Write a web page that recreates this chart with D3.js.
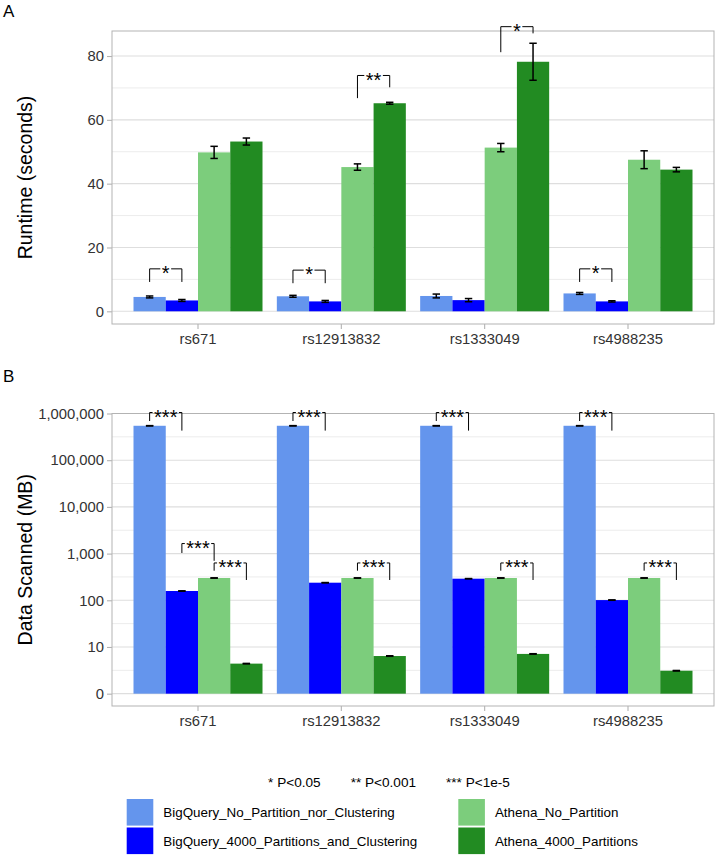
<!DOCTYPE html>
<html>
<head>
<meta charset="utf-8">
<script src="https://cdn.jsdelivr.net/npm/d3@7/dist/d3.min.js"></script>
<style>
  body { margin: 0; background: #fff; }
  svg text { font-family: "Liberation Sans", Arial, sans-serif; }
</style>
</head>
<body>
<script>
// data
var snps = ["rs671", "rs12913832", "rs1333049", "rs4988235"];
var seriesNames = ["BigQuery_No_Partition_nor_Clustering", "BigQuery_4000_Partitions_and_Clustering",
                   "Athena_No_Partition", "Athena_4000_Partitions"];
var seriesColors = ["#6495ED", "#0000FF", "#7CCD7C", "#228B22"];

// runtime (seconds), one row per snp, one value per series
var runtimeMean = [[4.5, 3.4, 49.8, 53.2],
                   [4.7, 3.1, 45.2, 65.2],
                   [4.8, 3.5, 51.3, 78.2],
                   [5.6, 3.1, 47.5, 44.4]];
var runtimeErr = [[0.3, 0.3, 1.9, 1.1],
                  [0.3, 0.3, 1.0, 0.3],
                  [0.6, 0.5, 1.3, 5.8],
                  [0.3, 0.2, 2.8, 0.7]];
var runtimeTicks = [0, 20, 40, 60, 80];

// data scanned (MB)
var scannedMean = [[546000, 158, 300, 4.4],
                   [546000, 238, 300, 6.4],
                   [546000, 290, 300, 7.1],
                   [546000, 101, 300, 3.1]];
var scannedErr = [[4000, 1.5, 2, 0.05],
                  [4000, 2, 2, 0.08],
                  [4000, 2, 2, 0.08],
                  [4000, 1, 2, 0.04]];
var scannedTicks = [1, 10, 100, 1000, 10000, 100000, 1000000];
var scannedTickLabels = ["0", "10", "100", "1,000", "10,000", "100,000", "1,000,000"];

// significance brackets: snp index, two series, bar top, left tip, right tip
var runtimeSig = [
  {snp: 0, a: 0, b: 1, top: 13.3, tipA: 9.2, tipB: 9.2, label: "*"},
  {snp: 1, a: 0, b: 1, top: 12.9, tipA: 8.8, tipB: 8.8, label: "*"},
  {snp: 1, a: 2, b: 3, top: 73.9, tipA: 66.8, tipB: 70.2, label: "**"},
  {snp: 2, a: 2, b: 3, top: 89.2, tipA: 81.2, tipB: 87.1, label: "*"},
  {snp: 3, a: 0, b: 1, top: 13.3, tipA: 9.2, tipB: 9.2, label: "*"}
];
var scannedSig = [
  {snp: 0, a: 0, b: 1, top: 1050000, tipA: 690000, tipB: 430000, label: "***"},
  {snp: 1, a: 0, b: 1, top: 1050000, tipA: 690000, tipB: 430000, label: "***"},
  {snp: 2, a: 0, b: 1, top: 1050000, tipA: 690000, tipB: 430000, label: "***"},
  {snp: 3, a: 0, b: 1, top: 1050000, tipA: 690000, tipB: 430000, label: "***"},
  {snp: 0, a: 1, b: 2, top: 1640, tipA: 1030, tipB: 700, label: "***"},
  {snp: 0, a: 2, b: 3, top: 630, tipA: 430, tipB: 272, label: "***"},
  {snp: 1, a: 2, b: 3, top: 630, tipA: 430, tipB: 272, label: "***"},
  {snp: 2, a: 2, b: 3, top: 630, tipA: 430, tipB: 272, label: "***"},
  {snp: 3, a: 2, b: 3, top: 630, tipA: 430, tipB: 272, label: "***"}
];
var pLabels = ["* P<0.05", "** P<0.001", "*** P<1e-5"];

var width = 716, height = 855;
var left = 112, right = 714;
var tickCol = "#b3b3b3", textCol = "#333333";

var svg = d3.select("body").append("svg")
  .attr("width", width).attr("height", height);

var x = d3.scaleBand().domain(snps).range([left, right])
  .paddingInner(0.1).paddingOuter(0.15);
var xs = d3.scaleBand().domain(d3.range(seriesNames.length)).range([0, x.bandwidth()]);
function barMid(snpIdx, s) { return x(snps[snpIdx]) + xs(s) + xs.bandwidth() / 2; }

function drawPanel(opt) {
  var y = opt.y, top = opt.top, bottom = opt.bottom;
  var g = svg.append("g");

  // grid
  g.selectAll(".minor").data(opt.minor).join("line")
    .attr("x1", left).attr("x2", right)
    .attr("y1", d => y(d)).attr("y2", d => y(d))
    .attr("stroke", "#ececec").attr("stroke-width", 1);
  g.selectAll(".major").data(opt.ticks).join("line")
    .attr("x1", left).attr("x2", right)
    .attr("y1", d => y(d)).attr("y2", d => y(d))
    .attr("stroke", "#dedede").attr("stroke-width", 1.1);

  // bars
  opt.mean.forEach(function(row, i) {
    g.selectAll(null).data(row).join("rect")
      .attr("x", (d, s) => x(snps[i]) + xs(s))
      .attr("width", xs.bandwidth())
      .attr("y", d => y(d))
      .attr("height", d => y(opt.base) - y(d))
      .attr("fill", (d, s) => seriesColors[s]);
  });

  // error bars
  var cap = xs.bandwidth() * 0.23;
  opt.mean.forEach(function(row, i) {
    row.forEach(function(m, s) {
      var e = opt.err[i][s], cx = barMid(i, s);
      var eg = g.append("g").attr("stroke", "#000").attr("stroke-width", 1.5);
      eg.append("line").attr("x1", cx).attr("x2", cx).attr("y1", y(m - e)).attr("y2", y(m + e));
      eg.append("line").attr("x1", cx - cap / 2).attr("x2", cx + cap / 2).attr("y1", y(m - e)).attr("y2", y(m - e));
      eg.append("line").attr("x1", cx - cap / 2).attr("x2", cx + cap / 2).attr("y1", y(m + e)).attr("y2", y(m + e));
    });
  });

  // border
  g.append("rect").attr("x", left).attr("y", top)
    .attr("width", right - left).attr("height", bottom - top)
    .attr("fill", "none").attr("stroke", tickCol).attr("stroke-width", 1);

  // axes
  var ya = g.append("g").attr("transform", "translate(" + left + ",0)")
    .call(d3.axisLeft(y).tickValues(opt.ticks).tickSize(5).tickPadding(3).tickFormat(opt.fmt));
  var xa = g.append("g").attr("transform", "translate(0," + bottom + ")")
    .call(d3.axisBottom(x).tickSize(5).tickPadding(4));
  [ya, xa].forEach(function(a) {
    a.select(".domain").remove();
    a.selectAll(".tick line").attr("stroke", tickCol).attr("stroke-width", 1.1);
    a.selectAll(".tick text").attr("fill", textCol).attr("font-size", 14.8);
  });

  // axis title
  g.append("text")
    .attr("transform", "translate(32," + (top + bottom) / 2 + ") rotate(-90)")
    .attr("text-anchor", "middle").attr("font-size", 19.5).attr("fill", "#000")
    .text(opt.title);

  // panel tag
  svg.append("text").attr("x", 3).attr("y", opt.tagY)
    .attr("font-size", 17).attr("fill", "#000").text(opt.tag);

  // significance brackets
  opt.sig.forEach(function(b) {
    var x1 = barMid(b.snp, b.a), x2 = barMid(b.snp, b.b), yt = y(b.top);
    var fs = 20;
    var t = g.append("text").attr("x", (x1 + x2) / 2).attr("y", yt + fs * 0.56)
      .attr("text-anchor", "middle").attr("font-size", fs).attr("fill", "#000")
      .text(b.label);
    var half = t.node().getComputedTextLength() / 2 + 1.5;
    var bg = g.append("g").attr("stroke", "#000").attr("stroke-width", 1).attr("fill", "none");
    bg.append("path").attr("d", "M" + x1 + "," + y(b.tipA) + "V" + yt + "H" + ((x1 + x2) / 2 - half));
    bg.append("path").attr("d", "M" + ((x1 + x2) / 2 + half) + "," + yt + "H" + x2 + "V" + y(b.tipB));
  });
}

var yA = d3.scaleLinear().domain([-3.98, 87.84]).range([324, 31]);
drawPanel({
  y: yA, top: 31, bottom: 324, base: 0,
  ticks: runtimeTicks, minor: [10, 30, 50, 70], fmt: d3.format("d"),
  mean: runtimeMean, err: runtimeErr, sig: runtimeSig,
  title: "Runtime (seconds)", tag: "A", tagY: 17
});

var yB = d3.scaleLog().domain([Math.pow(10, -0.264), 1e6]).range([706, 413.5]);
var minorB = d3.range(0, 6).map(k => Math.pow(10, k + 0.5));
drawPanel({
  y: yB, top: 413.5, bottom: 706, base: 1,
  ticks: scannedTicks, minor: minorB, fmt: (d, i) => scannedTickLabels[i],
  mean: scannedMean, err: scannedErr, sig: scannedSig,
  title: "Data Scanned (MB)", tag: "B", tagY: 382
});

// p-value key
var pg = svg.append("g");
var pt = pg.selectAll("text").data(pLabels).join("text")
  .attr("y", 786.5).attr("font-size", 13.6).attr("fill", "#000").text(d => d);
var pw = pt.nodes().map(n => n.getComputedTextLength());
var gap = 30, total = d3.sum(pw) + gap * (pw.length - 1);
var px = 389 - total / 2;
pt.attr("x", function(d, i) { var v = px; px += pw[i] + gap; return v; });

// legend, two columns
var legCols = [126.7, 458.3], legRows = [799, 827.5], key = 26.6;
var lg = svg.append("g");
seriesNames.forEach(function(name, s) {
  var cx = legCols[Math.floor(s / 2)], cy = legRows[s % 2];
  lg.append("rect").attr("x", cx).attr("y", cy).attr("width", key).attr("height", key)
    .attr("fill", seriesColors[s]);
  lg.append("text").attr("x", cx + key + 10).attr("y", cy + key / 2 + 5)
    .attr("font-size", 13.4).attr("fill", "#000").text(name);
});
</script>
</body>
</html>
